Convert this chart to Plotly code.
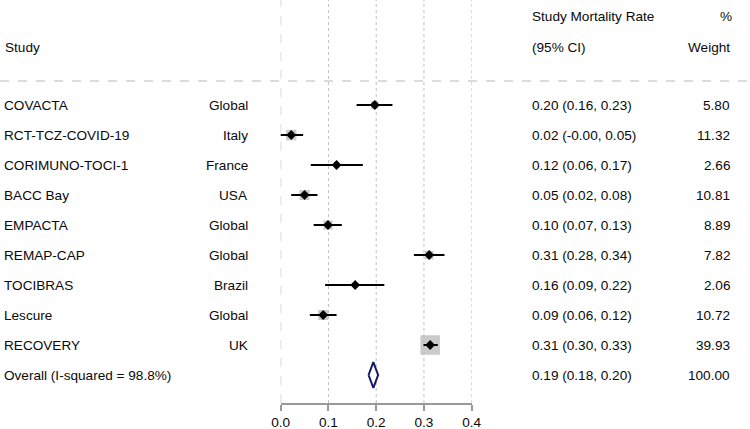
import plotly.graph_objects as go
import math

# ---- data ----
studies = ["COVACTA", "RCT-TCZ-COVID-19", "CORIMUNO-TOCI-1", "BACC Bay", "EMPACTA",
           "REMAP-CAP", "TOCIBRAS", "Lescure", "RECOVERY"]
countries = ["Global", "Italy", "France", "USA", "Global", "Global", "Brazil", "Global", "UK"]
estimates = [0.197, 0.022, 0.117, 0.050, 0.099, 0.311, 0.156, 0.089, 0.313]
lower = [0.159, -0.002, 0.063, 0.022, 0.069, 0.279, 0.093, 0.061, 0.299]
upper = [0.234, 0.047, 0.172, 0.077, 0.128, 0.343, 0.217, 0.117, 0.329]
weights = [5.80, 11.32, 2.66, 10.81, 8.89, 7.82, 2.06, 10.72, 39.93]
overall_label = "Overall (I-squared = 98.8%)"
overall_est = 0.194
overall_lo = 0.184
overall_hi = 0.204
overall_weight = 100.00
x_ticks = [0.0, 0.1, 0.2, 0.3, 0.4]
x_tick_labels = ["0.0", "0.1", "0.2", "0.3", "0.4"]

FONT = "Liberation Sans, Arial, sans-serif"
TXT = "#0a0a0a"
FS = 13.6
W, H = 750, 429

rows = list(range(len(studies)))
overall_row = len(studies)

fig = go.Figure()

# weight squares
max_w = max(weights)
fig.add_trace(go.Scatter(
    x=estimates, y=rows, mode="markers",
    marker=dict(symbol="square", color="#b3b3b3",
                size=[19.5 * math.sqrt(w / max_w) for w in weights],
                line=dict(width=0)),
    hoverinfo="skip", showlegend=False))

# CI lines
cx, cy = [], []
for r, lo, hi in zip(rows, lower, upper):
    cx += [lo, hi, None]
    cy += [r, r, None]
fig.add_trace(go.Scatter(x=cx, y=cy, mode="lines",
                         line=dict(color="black", width=2),
                         hoverinfo="skip", showlegend=False))

# point estimates
fig.add_trace(go.Scatter(
    x=estimates, y=rows, mode="markers",
    marker=dict(symbol="diamond", color="black", size=7.5, line=dict(width=0)),
    hoverinfo="skip", showlegend=False))

# overall diamond
hh = 0.43
fig.add_trace(go.Scatter(
    x=[overall_lo, overall_est, overall_hi, overall_est, overall_lo],
    y=[overall_row, overall_row - hh, overall_row, overall_row + hh, overall_row],
    mode="lines", fill="toself", fillcolor="white",
    line=dict(color="#16166e", width=2),
    hoverinfo="skip", showlegend=False))

# vertical reference lines
shapes = []
for t in x_ticks:
    if t == 0:
        shapes.append(dict(type="line", xref="x", yref="y domain", x0=t, x1=t, y0=0, y1=1,
                           line=dict(color="#a8a8a8", width=1, dash="dash"), layer="below"))
    else:
        shapes.append(dict(type="line", xref="x", yref="y domain", x0=t, x1=t, y0=0, y1=1,
                           line=dict(color="#c0c0c0", width=1, dash="dot"), layer="below"))
# header separator
shapes.append(dict(type="line", xref="paper", yref="y", x0=0, x1=1, y0=-0.8, y1=-0.8,
                   line=dict(color="#b8b8b8", width=1, dash="dash"), layer="below"))

ann = []
def txt(x, y, s, anchor):
    ann.append(dict(x=x, y=y, xref="paper", yref="y", text=s, showarrow=False,
                    xanchor=anchor, yanchor="middle", borderpad=0,
                    font=dict(family=FONT, size=FS, color=TXT)))

# header
txt(4 / W, -1.93, "Study", "left")
txt(531 / W, -2.95, "Study Mortality Rate", "left")
txt(531 / W, -1.93, "(95% CI)", "left")
txt(733 / W, -2.95, "%", "right")
txt(731 / W, -1.93, "Weight", "right")

for r, s, c, e, lo, hi, w in zip(rows, studies, countries, estimates, lower, upper, weights):
    txt(3 / W, r, s, "left")
    txt(249 / W, r, c, "right")
    txt(531 / W, r, f"{e:.2f} ({lo:.2f}, {hi:.2f})", "left")
    txt(731 / W, r, f"{w:.2f}", "right")

txt(3 / W, overall_row, overall_label, "left")
txt(531 / W, overall_row, f"{overall_est:.2f} ({overall_lo:.2f}, {overall_hi:.2f})", "left")
txt(731 / W, overall_row, f"{overall_weight:.2f}", "right")

fig.update_layout(
    width=W, height=H, autosize=False,
    margin=dict(l=0, r=0, t=0, b=0, pad=0, autoexpand=False),
    paper_bgcolor="white", plot_bgcolor="white",
    showlegend=False,
    shapes=shapes, annotations=ann,
    xaxis=dict(domain=[280.7 / W, 471.7 / W], range=[0, 0.4],
               tickvals=x_ticks, ticktext=x_tick_labels,
               showgrid=False, zeroline=False, automargin=False,
               showline=True, linecolor="#999999", linewidth=1.5,
               ticks="outside", ticklen=6, tickcolor="#999999", tickwidth=1.5,
               tickfont=dict(family=FONT, size=FS, color=TXT),
               fixedrange=True),
    yaxis=dict(domain=[26 / H, 1], range=[(403 - 105) / 30, -3.5],
               visible=False, fixedrange=True, automargin=False),
)

fig.write_html("out.html", config={"displayModeBar": False},
               post_script="document.body.style.margin='0';document.body.style.overflow='hidden';")
